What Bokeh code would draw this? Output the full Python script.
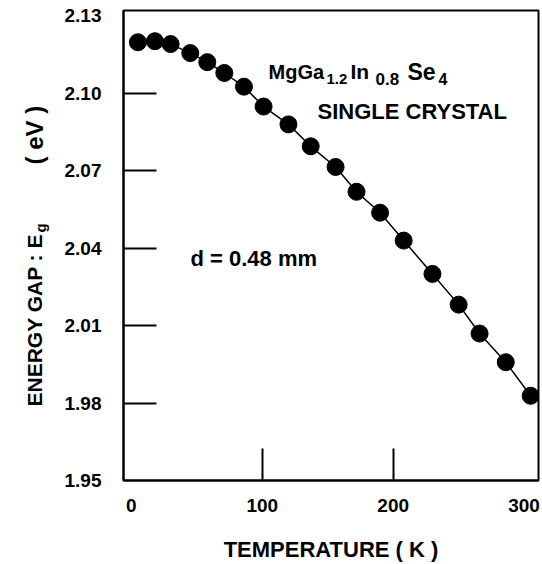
import math
from bokeh.plotting import figure
from bokeh.layouts import row
from bokeh.models import Label, FixedTicker, PrintfTickFormatter
from bokeh.embed import file_html
from bokeh.resources import INLINE

# ---- data ----
temperature = [5, 18, 30, 45, 58, 71, 86, 101, 120, 137, 156, 172, 190, 208, 230, 250, 266, 286, 305]
energy_gap = [2.1197, 2.1201, 2.1190, 2.1155, 2.1120, 2.1078, 2.1025, 2.0948, 2.0879, 2.0794,
              2.0714, 2.0618, 2.0537, 2.0429, 2.0300, 2.0181, 2.0069, 1.9958, 1.9828]

x_ticks = [0, 100, 200, 300]
x_inner_ticks = [100, 200]
y_ticks = [1.95, 1.98, 2.01, 2.04, 2.07, 2.10, 2.13]
y_inner_ticks = [1.98, 2.01, 2.04, 2.07, 2.10]

FONT = "Liberation Sans"

p = figure(width=487, height=564, x_range=(-6, 311), y_range=(1.95, 2.132),
           output_backend="svg", toolbar_location=None,
           min_border_left=68, min_border_right=4, min_border_top=10, min_border_bottom=80)

p.xgrid.visible = False
p.ygrid.visible = False
p.outline_line_color = "black"
p.outline_line_width = 2
p.background_fill_color = "white"
p.border_fill_color = "white"

for ax in (p.xaxis, p.yaxis):
    ax.axis_line_color = "black"
    ax.axis_line_width = 2
    ax.major_tick_in = 0
    ax.major_tick_out = 0
    ax.minor_tick_out = 0
    ax.minor_tick_line_color = "black"
    ax.minor_tick_line_width = 2
    ax.major_label_text_font = FONT
    ax.major_label_text_font_style = "bold"
    ax.major_label_text_font_size = "19px"
    ax.major_label_text_color = "black"

p.xaxis.ticker = FixedTicker(ticks=x_ticks, minor_ticks=x_inner_ticks)
p.xaxis.minor_tick_in = 32
p.xaxis.major_label_standoff = 18
p.xaxis.axis_label = "TEMPERATURE ( K )"
p.xaxis.axis_label_text_font = FONT
p.xaxis.axis_label_text_font_style = "bold"
p.xaxis.axis_label_text_font_size = "22px"
p.xaxis.axis_label_text_color = "black"
p.xaxis.axis_label_standoff = 22

p.yaxis.ticker = FixedTicker(ticks=y_ticks, minor_ticks=y_inner_ticks)
p.yaxis.formatter = PrintfTickFormatter(format="%.2f")
p.yaxis.minor_tick_in = 33
p.yaxis.major_label_standoff = 22

# data
p.line(temperature, energy_gap, line_color="black", line_width=1.5)
p.scatter(temperature, energy_gap, size=17, fill_color="black", line_color="black")

def lab(fig, x, y, text, size, align="left", baseline="alphabetic", angle=0.0):
    fig.add_layout(Label(x=x, y=y, x_units="screen", y_units="screen", text=text,
                         text_font=FONT, text_font_style="bold", text_font_size=size,
                         text_color="black", text_align=align, text_baseline=baseline,
                         angle=angle))

# formula MgGa1.2In0.8Se4
lab(p, 145, 409, "MgGa", "20px")
lab(p, 203, 402, "1.2", "15px")
lab(p, 227, 409, "In", "21px")
lab(p, 252, 402, "0.8", "17px")
lab(p, 284, 409, "Se", "23px")
lab(p, 315, 402, "4", "16px")

lab(p, 194, 369, "SINGLE CRYSTAL", "22px", baseline="middle")
lab(p, 67, 222, "d = 0.48 mm", "22px", baseline="middle")

# left strip carrying the rotated y-axis title (its frame is aligned with the main frame)
left = figure(width=55, height=564, x_range=(0, 1), y_range=(0, 1),
              output_backend="svg", toolbar_location=None, min_border=0)
left.axis.visible = False
left.xgrid.visible = False
left.ygrid.visible = False
left.outline_line_color = None
left.background_fill_color = "white"
left.border_fill_color = "white"

lab(left, 34, 74, "ENERGY GAP : E", "21px", baseline="middle", angle=math.pi / 2)
lab(left, 40, 248, "g", "15px", baseline="middle", angle=math.pi / 2)
lab(left, 34, 316, "( eV )", "24px", baseline="middle", angle=math.pi / 2)

layout = row(left, p)
open("out.html", "w").write(file_html(layout, INLINE))
